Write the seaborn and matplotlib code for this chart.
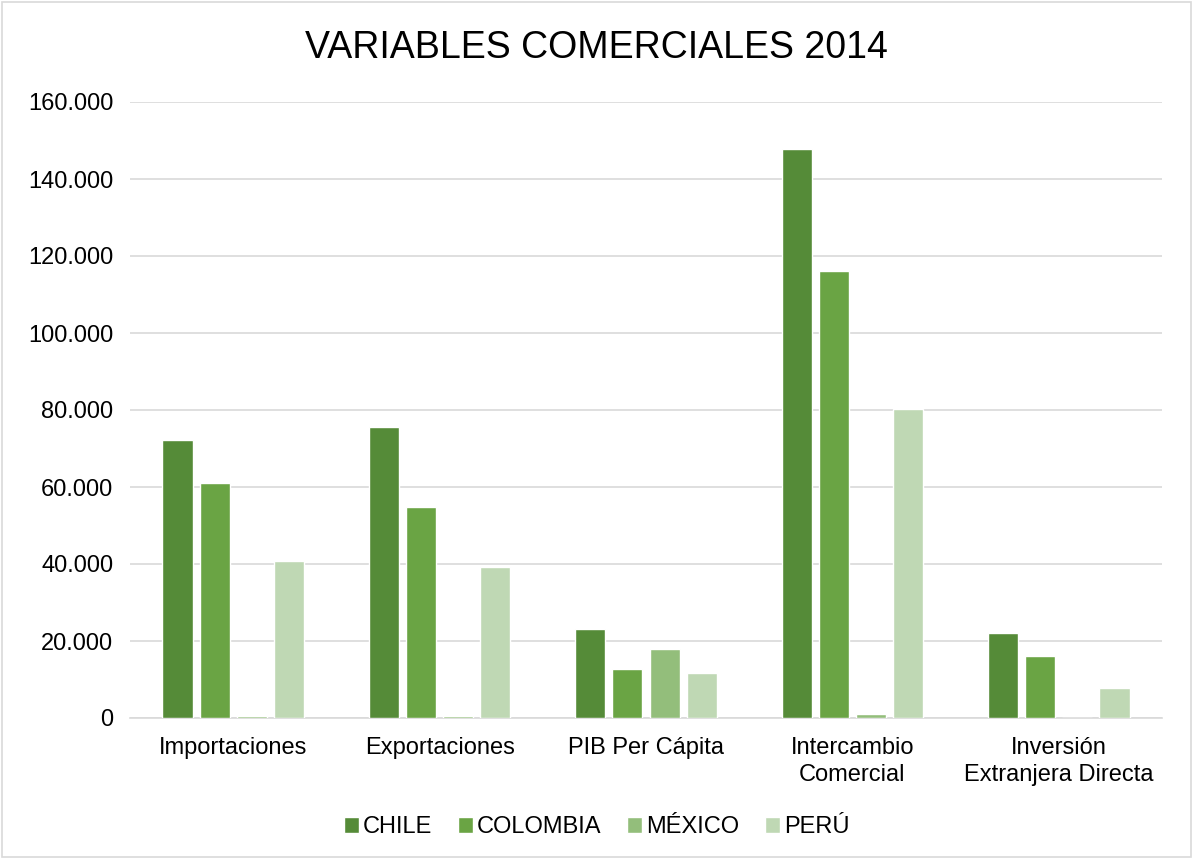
import matplotlib
matplotlib.use("Agg")
import matplotlib.pyplot as plt
import seaborn as sns
import pandas as pd
from matplotlib.ticker import FuncFormatter, MultipleLocator
from matplotlib.patches import Rectangle

categories = ["Importaciones", "Exportaciones", "PIB Per Cápita", "Intercambio\nComercial", "Inversión\nExtranjera Directa"]
countries = ["CHILE", "COLOMBIA", "MÉXICO", "PERÚ"]
chile = [72200, 75600, 23100, 147800, 22100]
colombia = [61000, 54800, 12700, 116100, 16100]
mexico = [600, 600, 17900, 1000, 0]
peru = [40800, 39200, 11700, 80300, 7800]
colors = ["#558B38", "#6AA444", "#93BE7B", "#BFD8B4"]

rows = []
for country, vals in zip(countries, [chile, colombia, mexico, peru]):
    for cat, v in zip(categories, vals):
        rows.append({"Variable": cat, "País": country, "Valor": v})
df = pd.DataFrame(rows)

sns.set_theme(style="white")
plt.rcParams['font.family'] = ['Liberation Sans', 'DejaVu Sans']
plt.rcParams['text.color'] = 'black'

fig = plt.figure(figsize=(11.93, 8.59), dpi=100)
ax = fig.add_axes([130/1193, 1-718/859, (1162-130)/1193, (718-102)/859])

sns.barplot(data=df, x="Variable", y="Valor", hue="País", order=categories,
            hue_order=countries, palette=colors, width=0.72, gap=0.19,
            saturation=1, ax=ax, legend=True)

ax.set_ylim(0, 160000)
ax.yaxis.set_major_locator(MultipleLocator(20000))
ax.yaxis.set_major_formatter(FuncFormatter(lambda v, p: f"{int(v):,}".replace(",", ".")))
ax.grid(axis="y", color="#D9D9D9", linewidth=1.2)
ax.set_axisbelow(True)
for s in ["top", "right", "left"]:
    ax.spines[s].set_visible(False)
ax.spines["bottom"].set_color("#D9D9D9")
ax.spines["bottom"].set_linewidth(1.2)
ax.spines["bottom"].set_zorder(0.5)
ax.set_xlabel("")
ax.set_ylabel("")
ax.tick_params(axis="y", labelsize=17, colors="#000000", pad=12, length=0)
ax.tick_params(axis="x", labelsize=17, colors="#000000", pad=14, length=0)
for lbl in ax.get_xticklabels():
    lbl.set_linespacing(1.25)

fig.text(0.5, 1-48/859, "VARIABLES COMERCIALES 2014", ha="center", va="center",
         fontsize=27, color="black")

handles, labels = ax.get_legend_handles_labels()
ax.legend_.remove()
fig.legend(handles, labels, loc="center", bbox_to_anchor=(0.5, 1-827/859), ncol=4,
           frameon=False, fontsize=17, handlelength=0.65, handleheight=0.65,
           handletextpad=0.15, columnspacing=1.1, labelcolor="black")

fig.patches.append(Rectangle((0.002, 0.002), 0.996, 0.996, transform=fig.transFigure,
                             fill=False, edgecolor="#D9D9D9", linewidth=1.2))

fig.savefig("out.png", dpi=100, facecolor="white")
